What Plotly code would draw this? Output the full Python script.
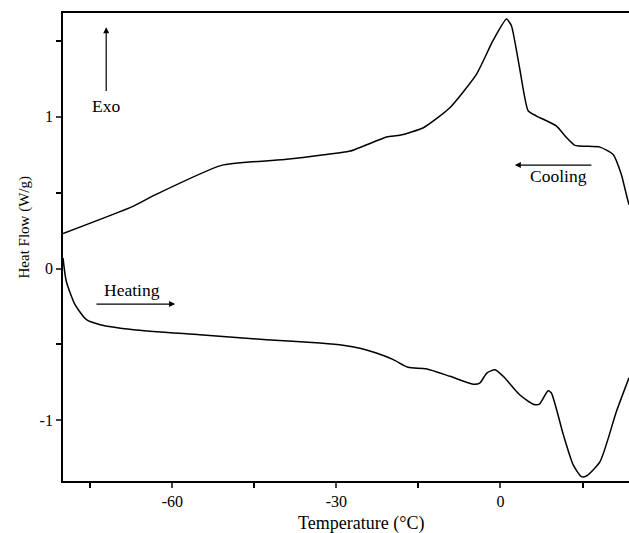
import plotly.graph_objects as go

# Cooling curve (upper)
cool_x = [-80.0, -67.2, -62.9, -51.0, -39.1, -33.0, -27.5, -20.8, -18.4, -14.1, -9.25, -4.4, -1.4, 1.1, 2.0, 3.5, 5.05, 6.6, 10.2, 12.1, 13.6, 18.2, 20.6, 22.1, 23.0, 23.5]
cool_y = [0.231, 0.41, 0.49, 0.68, 0.72, 0.746, 0.774, 0.867, 0.878, 0.928, 1.06, 1.28, 1.50, 1.644, 1.60, 1.32, 1.04, 1.005, 0.94, 0.862, 0.812, 0.80, 0.752, 0.62, 0.49, 0.42]

# Heating curve (lower)
heat_x = [-80.0, -79.4, -77.8, -75.7, -73.2, -67.1, -55.0, -42.8, -33.0, -28.8, -25.5, -22.7, -19.6, -16.9, -13.6, -9.25, -5.0, -3.8, -2.5, -1.0, 0.5, 3.5, 6.0, 7.1, 8.7, 9.3, 11.5, 13.3, 14.8, 15.7, 18.2, 21.2, 23.5]
heat_y = [0.07, -0.084, -0.238, -0.337, -0.37, -0.403, -0.436, -0.469, -0.491, -0.505, -0.527, -0.557, -0.60, -0.651, -0.66, -0.71, -0.762, -0.755, -0.689, -0.667, -0.71, -0.832, -0.894, -0.894, -0.805, -0.82, -1.096, -1.294, -1.371, -1.367, -1.272, -0.942, -0.72]

x_tickvals = [-60, -30, 0]
x_ticktext = ["-60", "-30", "0"]
y_tickvals = [-1, 0, 1]
y_ticktext = ["-1", "0", "1"]

FONT = "Liberation Serif"

fig = go.Figure()
fig.add_trace(go.Scatter(x=cool_x, y=cool_y, mode="lines",
                         line=dict(color="black", width=1.5, shape="spline", smoothing=0.5),
                         showlegend=False, hoverinfo="skip"))
fig.add_trace(go.Scatter(x=heat_x, y=heat_y, mode="lines",
                         line=dict(color="black", width=1.5, shape="spline", smoothing=0.6),
                         showlegend=False, hoverinfo="skip"))

# Arrows
arrow_style = dict(showarrow=True, arrowhead=2, arrowsize=1, arrowwidth=1.2, arrowcolor="black",
                   xref="x", yref="y", axref="x", ayref="y", text="")
fig.add_annotation(x=-72.1, y=1.59, ax=-72.1, ay=1.16, **arrow_style)
fig.add_annotation(x=-59.5, y=-0.234, ax=-74.15, ay=-0.234, **arrow_style)
fig.add_annotation(x=2.63, y=0.682, ax=16.9, ay=0.682, **arrow_style)

txt = dict(showarrow=False, xref="x", yref="y", font=dict(family=FONT, size=17.5, color="black"))
fig.add_annotation(x=-72.1, y=1.07, text="Exo", **txt)
fig.add_annotation(x=-67.4, y=-0.14, text="Heating", **txt)
fig.add_annotation(x=10.55, y=0.609, text="Cooling", **txt)

# Axis titles
fig.add_annotation(text="Temperature (°C)", xref="paper", yref="paper", x=0.527, y=0,
                   xanchor="center", yanchor="middle", yshift=-42, showarrow=False,
                   font=dict(family=FONT, size=18, color="black"))
fig.add_annotation(text="Heat Flow (W/g)", xref="paper", yref="paper", x=0, y=0.5417,
                   xanchor="center", yanchor="middle", xshift=-39, textangle=-90, showarrow=False,
                   font=dict(family=FONT, size=15, color="black"))

fig.update_layout(
    width=629, height=533,
    margin=dict(l=63, r=0, t=13, b=52, autoexpand=False),
    paper_bgcolor="white", plot_bgcolor="white",
    font=dict(family=FONT, size=16, color="black"),
    hovermode=False,
    xaxis=dict(range=[-80, 23.5], tickvals=x_tickvals, ticktext=x_ticktext, ticks="outside", ticklen=5, tickwidth=1.5,
               showline=True, linewidth=1.8, linecolor="black", mirror=True, showgrid=False, zeroline=False,
               automargin=False,
               minor=dict(tickvals=[-75, -45, -15, 15], ticks="outside", ticklen=5, tickwidth=1.5, tickcolor="black")),
    yaxis=dict(range=[-1.40, 1.684], tickvals=y_tickvals, ticktext=y_ticktext, ticks="outside", ticklen=5, tickwidth=1.5,
               showline=True, linewidth=1.8, linecolor="black", showgrid=False, zeroline=False,
               automargin=False,
               minor=dict(tickvals=[-0.5, 0.5, 1.5], ticks="outside", ticklen=5, tickwidth=1.5, tickcolor="black")),
)

fig.write_html("out.html", config={"displayModeBar": False},
               post_script="document.body.style.margin='0';document.body.style.overflow='hidden';")
